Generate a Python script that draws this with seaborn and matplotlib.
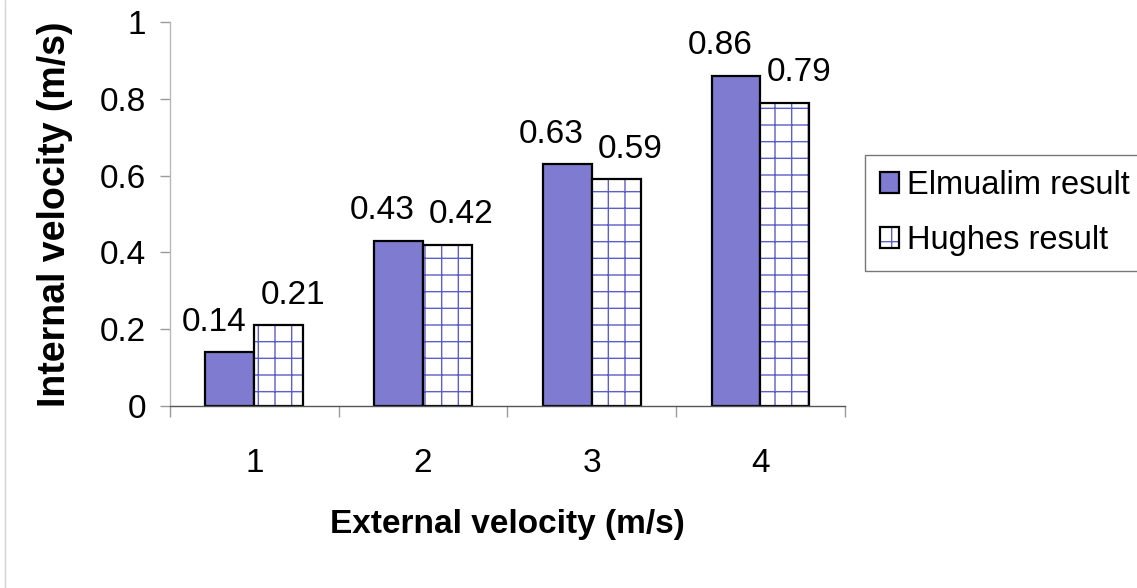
import matplotlib
matplotlib.use("Agg")
import matplotlib.pyplot as plt
from matplotlib.colors import to_rgba
from matplotlib.lines import Line2D
import seaborn as sns
import pandas as pd

# Data
external_velocity = ["1", "2", "3", "4"]
elmualim_result = [0.14, 0.43, 0.63, 0.86]
hughes_result = [0.21, 0.42, 0.59, 0.79]
series_names = ["Elmualim result", "Hughes result"]
y_ticks = [0, 0.2, 0.4, 0.6, 0.8, 1]
y_tick_labels = ["0", "0.2", "0.4", "0.6", "0.8", "1"]

df = pd.DataFrame({
    "External": external_velocity * 2,
    "Internal": elmualim_result + hughes_result,
    "Series": [series_names[0]] * 4 + [series_names[1]] * 4,
})

fill_color = "#7E7BD0"
hatch_color = "#5E5EC8"

sns.set_theme(style="white", rc={
    "text.color": "black",
    "axes.labelcolor": "black",
    "xtick.color": "black",
    "ytick.color": "black",
})
plt.rcParams["font.family"] = ["Liberation Sans", "DejaVu Sans"]
plt.rcParams["hatch.linewidth"] = 1.0

fig = plt.figure(figsize=(11.37, 5.88), dpi=100)
fig.patch.set_facecolor("white")
ax = fig.add_axes([0.1495, 0.3095, 0.5935, 0.6531])

sns.barplot(data=df, x="External", y="Internal", hue="Series",
            palette=[fill_color, "white"], saturation=1, width=0.58,
            edgecolor="black", linewidth=1.6, legend=False, ax=ax)

# Grid hatch on the second series
for bar in ax.containers[1]:
    bar.set_hatch("+")
    bar._hatch_color = to_rgba(hatch_color)

# Value labels above bars
label_dx = [-11.5, 10.0]
for container, values, dx in zip(ax.containers, [elmualim_result, hughes_result], label_dx):
    for bar, v in zip(container, values):
        ax.annotate(f"{v:.2f}",
                    xy=(bar.get_x() + bar.get_width() / 2, v),
                    xytext=(dx, 15.5), textcoords="offset points",
                    ha="center", va="baseline", fontsize=24, color="black")

ax.set_ylim(0, 1)
ax.set_xlim(-0.5, 3.5)
ax.set_yticks(y_ticks)
ax.set_yticklabels(y_tick_labels, fontsize=24)
ax.tick_params(axis="y", which="major", direction="out", length=7, width=1,
               color="#9a9a9a", labelcolor="black", pad=10, left=True)

ax.set_xticks(range(len(external_velocity)))
ax.set_xticklabels(external_velocity, fontsize=24)
ax.set_xticks([-0.5, 0.5, 1.5, 2.5, 3.5], minor=True)
ax.tick_params(axis="x", which="major", length=0, pad=30, labelcolor="black")
ax.tick_params(axis="x", which="minor", direction="out", length=8, width=1,
               color="#9a9a9a", bottom=True)

for side in ["top", "right"]:
    ax.spines[side].set_visible(False)
ax.spines["left"].set_color("#b8b8b8")
ax.spines["left"].set_linewidth(1)
ax.spines["bottom"].set_color("#555555")
ax.spines["bottom"].set_linewidth(1)

ax.set_xlabel("External velocity (m/s)", fontsize=24, fontweight="bold", color="black")
ax.set_ylabel("Internal velocity (m/s)", fontsize=27, fontweight="bold", color="black")
ax.xaxis.set_label_coords(0.5, -0.268)
ax.yaxis.set_label_coords(-0.143, 0.5)

leg = fig.legend(handles=[ax.containers[0][0], ax.containers[1][0]],
                 labels=series_names, loc="upper left",
                 bbox_to_anchor=(865 / 1137, 1 - 155 / 588),
                 bbox_transform=fig.transFigure, fontsize=23.5,
                 frameon=True, fancybox=False, shadow=False,
                 handlelength=0.6, handleheight=0.6, handletextpad=0.25,
                 borderpad=0.45, labelspacing=0.75, borderaxespad=0,
                 labelcolor="black")
leg.get_frame().set_edgecolor("#555555")
leg.get_frame().set_linewidth(1)

# Thin frame line at the left edge of the chart area
fig.add_artist(Line2D([5 / 1137, 5 / 1137], [0.0, 1.0], transform=fig.transFigure,
                      color="#d4d4d4", linewidth=1))

fig.savefig("out.png", dpi=100, facecolor="white")
